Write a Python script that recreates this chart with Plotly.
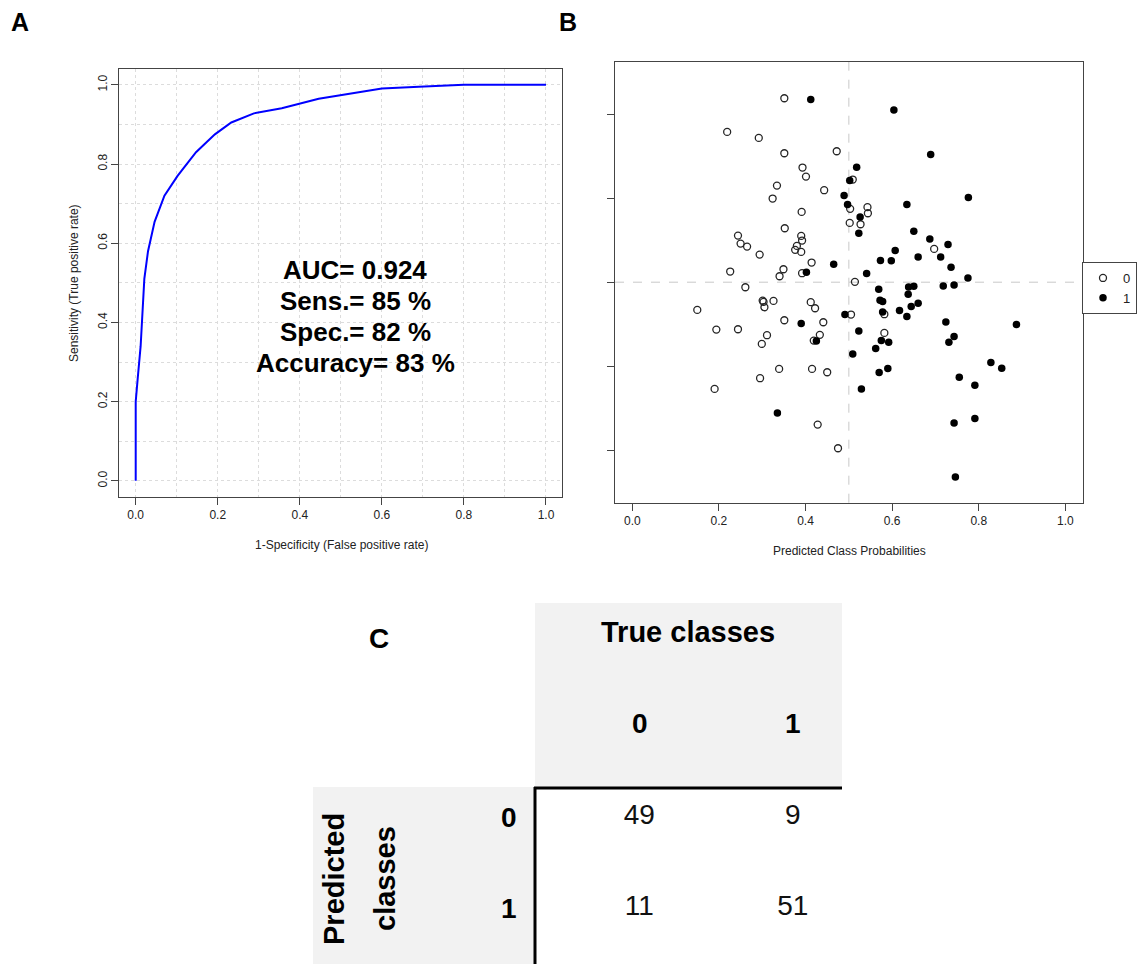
import plotly.graph_objects as go

# ---------------- data ----------------
# Panel A: ROC curve
roc_fpr = [0.0, 0.0, 0.005, 0.012, 0.021, 0.030, 0.046, 0.070, 0.102, 0.147, 0.193,
           0.233, 0.288, 0.356, 0.446, 0.519, 0.600, 0.690, 0.800, 1.000]
roc_tpr = [0.0, 0.200, 0.260, 0.340, 0.510, 0.580, 0.654, 0.720, 0.770, 0.830, 0.875,
           0.905, 0.928, 0.941, 0.965, 0.978, 0.991, 0.995, 1.000, 1.000]
auc_value = 0.924

# Panel B: predicted class probabilities (x) with vertical jitter (y)
class_labels = ["0", "1"]
class0_x = [0.351, 0.219, 0.292, 0.351, 0.472, 0.393, 0.401, 0.334, 0.509, 0.443,
            0.324, 0.503, 0.391, 0.502, 0.352, 0.244, 0.390, 0.392, 0.250, 0.265,
            0.380, 0.376, 0.390, 0.294, 0.414, 0.226, 0.349, 0.340, 0.392, 0.514,
            0.543, 0.544, 0.527, 0.697,
            0.261, 0.301, 0.303, 0.305, 0.326, 0.150, 0.412, 0.422, 0.505, 0.351,
            0.441, 0.194, 0.244, 0.311, 0.299, 0.433, 0.419, 0.339, 0.415, 0.450,
            0.295, 0.190, 0.428, 0.475,
            0.582, 0.582]
class0_y = [2.190, 1.789, 1.718, 1.535, 1.559, 1.365, 1.257, 1.150, 1.222, 1.095,
            0.996, 0.873, 0.837, 0.706, 0.642, 0.555, 0.551, 0.496, 0.460, 0.424,
            0.432, 0.385, 0.361, 0.329, 0.234, 0.127, 0.154, 0.071, 0.107, 0.004,
            0.893, 0.821, 0.690, 0.396,
            -0.060, -0.219, -0.235, -0.298, -0.223, -0.330, -0.238, -0.310, -0.385, -0.453,
            -0.477, -0.564, -0.560, -0.631, -0.735, -0.627, -0.695, -1.032, -1.032, -1.072,
            -1.143, -1.270, -1.695, -1.977,
            -0.381, -0.604]
class1_x = [0.412, 0.502, 0.489, 0.497, 0.465, 0.402,
            0.604, 0.689, 0.518, 0.776, 0.634, 0.526, 0.523, 0.650, 0.687, 0.729,
            0.607, 0.573, 0.598, 0.660, 0.712, 0.736, 0.541, 0.775,
            0.491, 0.390, 0.425, 0.509, 0.335,
            0.569, 0.638, 0.650, 0.637, 0.718, 0.743, 0.572, 0.578, 0.660, 0.644,
            0.617, 0.578, 0.634, 0.724, 0.887, 0.523, 0.575, 0.592, 0.743, 0.731,
            0.562, 0.828, 0.853, 0.590, 0.570, 0.755, 0.529, 0.791, 0.791, 0.743,
            0.746]
class1_y = [2.174, 1.210, 1.031, 0.924, 0.214, 0.119,
            2.051, 1.519, 1.369, 1.008, 0.924, 0.777, 0.583, 0.607, 0.515, 0.448,
            0.377, 0.258, 0.254, 0.301, 0.301, 0.178, 0.103, 0.051,
            -0.385, -0.492, -0.699, -0.854, -1.556,
            -0.084, -0.056, -0.048, -0.143, -0.044, -0.032, -0.215, -0.231, -0.250, -0.290,
            -0.338, -0.354, -0.409, -0.473, -0.504, -0.580, -0.695, -0.715, -0.647, -0.715,
            -0.790, -0.957, -1.024, -1.028, -1.076, -1.131, -1.270, -1.227, -1.623, -1.675,
            -2.318]
threshold = 0.5

# Panel C: confusion matrix (rows = predicted, columns = true)
confusion = [[49, 9],
             [11, 51]]

tick_vals = [0.0, 0.2, 0.4, 0.6, 0.8, 1.0]
tick_text = ["0.0", "0.2", "0.4", "0.6", "0.8", "1.0"]
jitter_ticks = [-2, -1, 0, 1, 2]

# ---------------- metrics ----------------
tn, fn = confusion[0][0], confusion[0][1]
fp, tp = confusion[1][0], confusion[1][1]
sens = tp / (tp + fn) * 100
spec = tn / (tn + fp) * 100
acc = (tp + tn) / (tp + tn + fp + fn) * 100
stats_lines = [f"AUC= {auc_value:.3f}", f"Sens.= {sens:.0f} %",
               f"Spec.= {spec:.0f} %", f"Accuracy= {acc:.0f} %"]

# ---------------- layout helpers ----------------
W, H = 1137, 964
FONT = "Liberation Sans, Arial, Helvetica, sans-serif"
AX = "#444444"
TXT = "#222222"


def fx(p):
    return p / W


def fy(p):
    return 1 - p / H


fig = go.Figure()

# Panel A
fig.add_trace(go.Scatter(x=roc_fpr, y=roc_tpr, mode="lines",
                         line=dict(color="#0000ff", width=2),
                         xaxis="x", yaxis="y", showlegend=False))

# Panel B
fig.add_trace(go.Scatter(x=class0_x, y=class0_y, mode="markers", name=class_labels[0],
                         marker=dict(symbol="circle-open", size=7, color="#262626",
                                     line=dict(width=1.3)),
                         xaxis="x2", yaxis="y2"))
fig.add_trace(go.Scatter(x=class1_x, y=class1_y, mode="markers", name=class_labels[1],
                         marker=dict(symbol="circle", size=7.5, color="#000000",
                                     line=dict(width=0)),
                         xaxis="x2", yaxis="y2"))

# Panel C cells
cell_x, cell_y, cell_t = [], [], []
for r, row in enumerate(confusion):
    for c, v in enumerate(row):
        cell_x.append(c)
        cell_y.append(r)
        cell_t.append(str(v))
fig.add_trace(go.Scatter(x=cell_x, y=cell_y, text=cell_t, mode="text",
                         textfont=dict(size=28, family=FONT, color="#111111"),
                         xaxis="x3", yaxis="y3", showlegend=False, hoverinfo="skip"))

common = dict(showline=True, linecolor=AX, linewidth=1, mirror=True,
              ticks="outside", ticklen=7, tickcolor=AX, tickwidth=1,
              tickfont=dict(size=12, color=TXT, family=FONT), zeroline=False)
GRIDC = "#dcdcdc"
grid = dict(showgrid=True, gridcolor=GRIDC, griddash="dot", gridwidth=1,
            minor=dict(tick0=0, dtick=0.1, showgrid=True, gridcolor=GRIDC,
                       griddash="dot", gridwidth=1, ticks=""))

fig.update_layout(
    width=W, height=H, margin=dict(l=0, r=0, t=0, b=0, autoexpand=False),
    paper_bgcolor="white", plot_bgcolor="white",
    font=dict(family=FONT, color=TXT),
    xaxis=dict(domain=[fx(119.3), fx(562.4)], range=[-0.04, 1.04], anchor="y",
               tickvals=tick_vals, ticktext=tick_text, **common, **grid),
    yaxis=dict(domain=[fy(496.7), fy(69)], range=[-0.04, 1.04], anchor="x",
               tickvals=tick_vals, ticktext=tick_text, tickangle=-90, **common, **grid),
    xaxis2=dict(domain=[fx(615), fx(1082.7)], range=[-0.04, 1.04], anchor="y2",
                tickvals=tick_vals, ticktext=tick_text, showgrid=False, **common),
    yaxis2=dict(domain=[fy(502.7), fy(61.7)], range=[-2.625, 2.625], anchor="x2",
                tickvals=jitter_ticks, showticklabels=False, showgrid=False, **common),
    xaxis3=dict(domain=[fx(535), fx(842)], range=[-0.68, 1.32], anchor="y3",
                visible=False, fixedrange=True),
    yaxis3=dict(domain=[0, fy(787)], range=[1.621, -0.331], anchor="x3",
                visible=False, fixedrange=True),
    legend=dict(x=1.0, y=fy(262), xanchor="right", yanchor="top",
                bordercolor=AX, borderwidth=1, bgcolor="white",
                font=dict(size=13, family=FONT, color=TXT),
                itemwidth=30, tracegroupgap=0),
)

shapes = [
    # panel B reference lines
    dict(type="line", xref="x2", yref="y2 domain", x0=threshold, x1=threshold, y0=0, y1=1,
         line=dict(color="#c8c8c8", width=1, dash="dash"), layer="below"),
    dict(type="line", xref="x2 domain", yref="y2", x0=0, x1=1, y0=0, y1=0,
         line=dict(color="#c8c8c8", width=1, dash="dash"), layer="below"),
    # panel C backgrounds
    dict(type="rect", xref="paper", yref="paper", x0=fx(535), x1=fx(842), y0=fy(787), y1=fy(603),
         fillcolor="#f2f2f2", line=dict(width=0), layer="below"),
    dict(type="rect", xref="paper", yref="paper", x0=fx(313), x1=fx(535), y0=fy(964), y1=fy(787),
         fillcolor="#f2f2f2", line=dict(width=0), layer="below"),
    # panel C black rules
    dict(type="line", xref="paper", yref="paper", x0=fx(535), x1=fx(535), y0=fy(964), y1=fy(787),
         line=dict(color="#000000", width=3)),
    dict(type="line", xref="paper", yref="paper", x0=fx(534), x1=fx(842), y0=fy(788), y1=fy(788),
         line=dict(color="#000000", width=3)),
]
fig.update_layout(shapes=shapes)

ann = []


def add_text(x, y, text, size, bold=False, angle=0, color=TXT):
    ann.append(dict(x=fx(x), y=fy(y), xref="paper", yref="paper", text=f"<b>{text}</b>" if bold else text,
                    showarrow=False, xanchor="center", yanchor="middle", textangle=angle,
                    font=dict(size=size, family=FONT, color=color)))


# panel labels
add_text(20, 22, "A", 25, bold=True, color="#000")
add_text(568, 22, "B", 25, bold=True, color="#000")
add_text(379, 638, "C", 28, bold=True, color="#000")

# panel A texts
for i, line in enumerate(stats_lines):
    add_text(355, 270 + 31 * i, line, 26, bold=True, color="#000")
add_text(341, 545, "1-Specificity (False positive rate)", 12)
add_text(74, 283, "Sensitivity (True positive rate)", 12, angle=-90)

# panel B title
add_text(849, 551, "Predicted Class Probabilities", 12)

# panel C headers
add_text(688, 632, "True classes", 29, bold=True, color="#000")
add_text(640, 723, class_labels[0], 28, bold=True, color="#000")
add_text(793, 723, class_labels[1], 28, bold=True, color="#000")
add_text(509, 817, class_labels[0], 28, bold=True, color="#000")
add_text(509, 908, class_labels[1], 28, bold=True, color="#000")
add_text(334, 879, "Predicted", 29, bold=True, angle=-90, color="#000")
add_text(385, 879, "classes", 29, bold=True, angle=-90, color="#000")

fig.update_layout(annotations=ann)

fig.write_html("out.html")
